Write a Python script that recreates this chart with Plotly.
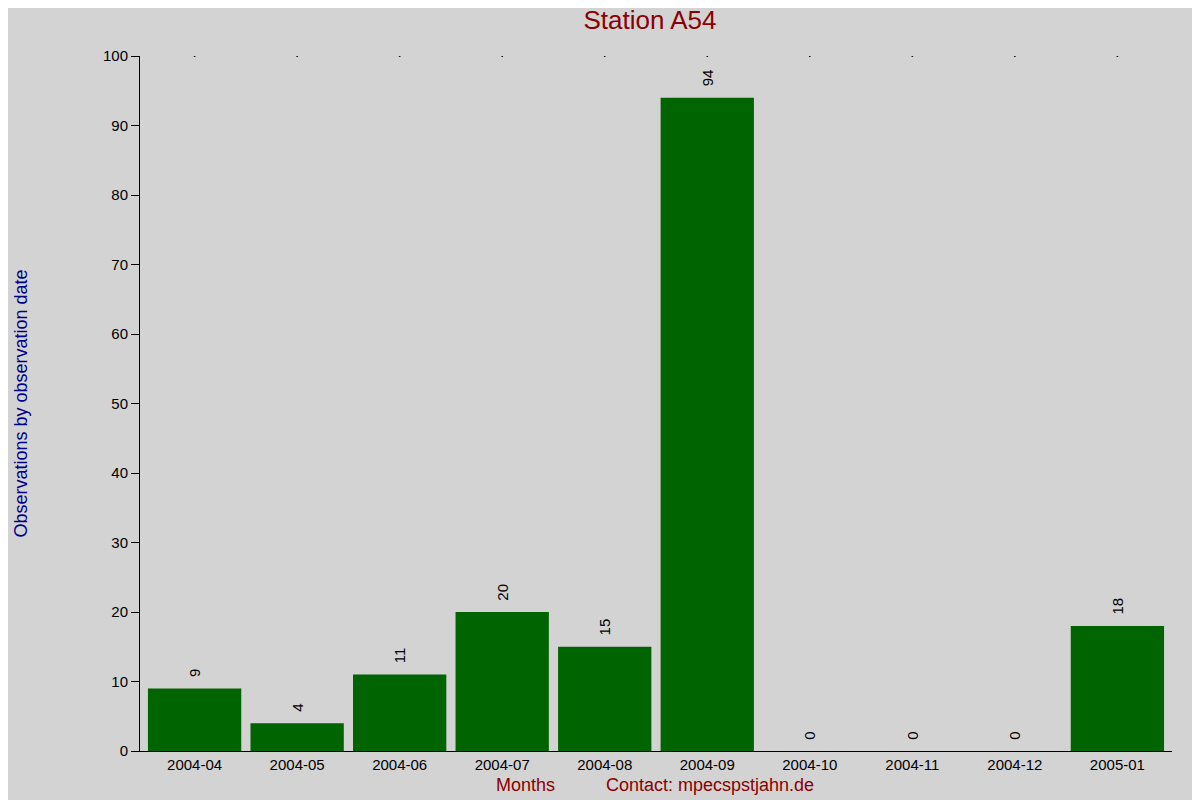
import plotly.graph_objects as go

months = ["2004-04", "2004-05", "2004-06", "2004-07", "2004-08",
          "2004-09", "2004-10", "2004-11", "2004-12", "2005-01"]
counts = [9, 4, 11, 20, 15, 94, 0, 0, 0, 18]
y_ticks = [0, 10, 20, 30, 40, 50, 60, 70, 80, 90, 100]

# page renders with an 8px body offset, so pixel targets are shifted by 8
L, R, T, B = 118, 36, 48, 57
W, H = 1200, 800

fig = go.Figure()
fig.add_trace(go.Bar(
    x=months, y=counts,
    marker=dict(color="#006400", line=dict(width=0)),
    text=["  " + str(c) for c in counts],
    textposition="outside", textangle=-90,
    textfont=dict(color="#000000", size=15),
    cliponaxis=False,
))
# little dots along the top edge
fig.add_trace(go.Scatter(
    x=months, y=[100] * len(months), mode="markers",
    marker=dict(color="#000000", size=2), hoverinfo="skip",
))

fig.update_layout(
    width=W, height=H,
    paper_bgcolor="#d3d3d3", plot_bgcolor="#d3d3d3",
    showlegend=False, bargap=0.09,
    margin=dict(l=L, r=R, t=T, b=B),
    font=dict(family="Liberation Sans, Arial, sans-serif", size=15, color="#000000"),
    title=dict(text="Station A54", x=(650 - 8) / W, xanchor="center",
               y=1 - 3 / H, yanchor="top",
               font=dict(size=26, color="#8b0000")),
    xaxis=dict(type="category", showgrid=False, showline=True,
               linecolor="#000000", linewidth=1, ticks="",
               tickfont=dict(size=15)),
    yaxis=dict(range=[0, 100], tickvals=y_ticks, showgrid=False, zeroline=False,
               showline=True, linecolor="#000000", linewidth=1,
               ticks="outside", ticklen=8, tickcolor="#000000",
               tickfont=dict(size=15),
               title=dict(text="Observations by observation date",
                          font=dict(size=18, color="#00008b"), standoff=70)),
)

pw, ph = W - L - R, H - T - B
for label, px_x in [("Months", 517), ("Contact: mpecspstjahn.de", 704)]:
    fig.add_annotation(text=label, xref="paper", yref="paper",
                       x=(px_x - 8 - L) / pw, y=(H - B - (785 - 8)) / ph,
                       yanchor="middle", showarrow=False,
                       font=dict(size=18, color="#8b0000"))

fig.write_html("out.html")
